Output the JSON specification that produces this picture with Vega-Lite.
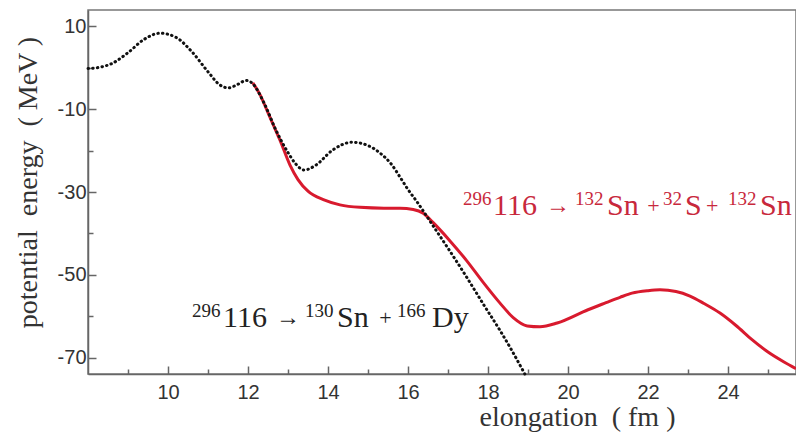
{
  "$schema": "https://vega.github.io/schema/vega-lite/v6.json",
  "autosize": {"type": "none"},
  "width": 708,
  "height": 364,
  "padding": {"left": 88, "top": 10, "right": 0, "bottom": 59},
  "background": "white",
  "config": {
    "view": {"stroke": "#777", "strokeWidth": 1.5},
    "axis": {
      "grid": false,
      "domainColor": "#666",
      "domainWidth": 1.5,
      "tickColor": "#666",
      "tickWidth": 1.5,
      "labelFont": "Liberation Sans",
      "labelFontSize": 20,
      "labelColor": "#333",
      "labelFlush": false,
      "labelExpr": "replace(datum.label, '−', '-')",
      "titleFont": "Liberation Serif",
      "titleFontSize": 28,
      "titleFontWeight": "normal",
      "titleColor": "#333"
    }
  },
  "datasets": {
    "fission": [
      {"x": 8.0, "y": -0.2}, {"x": 8.3, "y": 0.1}, {"x": 8.6, "y": 1.0}, {"x": 9.0, "y": 3.6},
      {"x": 9.4, "y": 6.8}, {"x": 9.8, "y": 8.3}, {"x": 10.2, "y": 7.3}, {"x": 10.6, "y": 3.8},
      {"x": 11.0, "y": -1.0}, {"x": 11.3, "y": -4.2}, {"x": 11.5, "y": -4.9}, {"x": 11.75, "y": -4.0},
      {"x": 11.95, "y": -3.1}, {"x": 12.1, "y": -3.7}, {"x": 12.4, "y": -8.5}, {"x": 12.7, "y": -15.1},
      {"x": 13.0, "y": -20.5}, {"x": 13.2, "y": -23.3}, {"x": 13.4, "y": -24.7}, {"x": 13.7, "y": -23.5},
      {"x": 14.1, "y": -20.0}, {"x": 14.6, "y": -18.0}, {"x": 15.0, "y": -18.8}, {"x": 15.3, "y": -20.6},
      {"x": 15.6, "y": -23.5}, {"x": 15.8, "y": -26.4}, {"x": 16.0, "y": -29.4}, {"x": 16.22, "y": -32.3},
      {"x": 16.63, "y": -38.2}, {"x": 17.05, "y": -44.3}, {"x": 17.47, "y": -50.6}, {"x": 17.88, "y": -57.0},
      {"x": 18.3, "y": -63.4}, {"x": 18.6, "y": -68.3}, {"x": 18.92, "y": -73.9}
    ],
    "ternary": [
      {"x": 12.12, "y": -3.7}, {"x": 12.3, "y": -6.5}, {"x": 12.47, "y": -10.2}, {"x": 12.65, "y": -14.2},
      {"x": 12.8, "y": -17.5}, {"x": 13.05, "y": -23.5}, {"x": 13.25, "y": -27.0}, {"x": 13.5, "y": -29.8},
      {"x": 13.9, "y": -31.9}, {"x": 14.3, "y": -33.1}, {"x": 14.8, "y": -33.7}, {"x": 15.4, "y": -33.9},
      {"x": 15.8, "y": -33.9}, {"x": 16.13, "y": -34.2}, {"x": 16.38, "y": -35.1}, {"x": 16.63, "y": -37.4},
      {"x": 17.05, "y": -41.8}, {"x": 17.47, "y": -46.6}, {"x": 17.88, "y": -51.8}, {"x": 18.3, "y": -56.8},
      {"x": 18.63, "y": -60.3}, {"x": 18.98, "y": -62.3}, {"x": 19.3, "y": -62.5}, {"x": 19.73, "y": -61.6},
      {"x": 20.5, "y": -58.4}, {"x": 20.95, "y": -56.7}, {"x": 21.3, "y": -55.4}, {"x": 21.6, "y": -54.4},
      {"x": 22.0, "y": -53.8}, {"x": 22.3, "y": -53.6}, {"x": 22.7, "y": -54.0}, {"x": 23.05, "y": -55.1},
      {"x": 23.4, "y": -56.9}, {"x": 23.8, "y": -59.2}, {"x": 24.2, "y": -62.2}, {"x": 24.6, "y": -65.6},
      {"x": 25.0, "y": -68.6}, {"x": 25.4, "y": -71.0}, {"x": 25.7, "y": -72.6}
    ],
    "labels": [
      {"series": "ternary", "kind": "sup", "text": "296", "x": 17.375, "y": -35.55},
      {"series": "ternary", "kind": "base", "text": "116", "x": 18.125, "y": -35.55},
      {"series": "ternary", "kind": "arrow", "text": "→", "x": 19.45, "y": -35.55},
      {"series": "ternary", "kind": "sup", "text": "132", "x": 20.175, "y": -35.55},
      {"series": "ternary", "kind": "base", "text": "Sn", "x": 20.975, "y": -35.55},
      {"series": "ternary", "kind": "sym", "text": "+", "x": 21.98, "y": -35.55},
      {"series": "ternary", "kind": "sup", "text": "32", "x": 22.375, "y": -35.55},
      {"series": "ternary", "kind": "base", "text": "S", "x": 22.925, "y": -35.55},
      {"series": "ternary", "kind": "sym", "text": "+", "x": 23.45, "y": -35.55},
      {"series": "ternary", "kind": "sup", "text": "132", "x": 24.0, "y": -35.55},
      {"series": "ternary", "kind": "base", "text": "Sn", "x": 24.8, "y": -35.55},
      {"series": "fission", "kind": "sup", "text": "296", "x": 10.6, "y": -62.56},
      {"series": "fission", "kind": "base", "text": "116", "x": 11.375, "y": -62.56},
      {"series": "fission", "kind": "arrow", "text": "→", "x": 12.7, "y": -62.56},
      {"series": "fission", "kind": "sup", "text": "130", "x": 13.425, "y": -62.56},
      {"series": "fission", "kind": "base", "text": "Sn", "x": 14.225, "y": -62.56},
      {"series": "fission", "kind": "sym", "text": "+", "x": 15.28, "y": -62.56},
      {"series": "fission", "kind": "sup", "text": "166", "x": 15.725, "y": -62.56},
      {"series": "fission", "kind": "base", "text": "Dy", "x": 16.6, "y": -62.56}
    ]
  },
  "resolve": {"axis": {"x": "independent", "y": "independent"}},
  "layer": [
    {
      "data": {"name": "ternary"},
      "mark": {"type": "line", "color": "#d81a2e", "strokeWidth": 3, "interpolate": "monotone"},
      "encoding": {
        "x": {
          "field": "x", "type": "quantitative",
          "scale": {"domain": [8, 25.7], "nice": false, "zero": false},
          "axis": {
            "orient": "bottom",
            "values": [10, 12, 14, 16, 18, 20, 22, 24],
            "tickSize": -8,
            "labelPadding": 16,
            "title": "elongation\u00a0 ( fm )",
            "titleX": 489,
            "titleY": 51,
            "titleAlign": "center",
            "titleBaseline": "alphabetic"
          }
        },
        "y": {
          "field": "y", "type": "quantitative",
          "scale": {"domain": [-73.9, 13.9], "nice": false, "zero": false},
          "axis": {
            "orient": "left",
            "values": [10, -10, -30, -50, -70],
            "tickSize": -8,
            "labelPadding": 10,
            "title": "potential\u00a0 energy\u00a0 ( MeV )",
            "titleX": -52,
            "titleY": 172,
            "titleAngle": -90,
            "titleAlign": "center",
            "titleBaseline": "alphabetic"
          }
        }
      }
    },
    {
      "data": {"name": "fission"},
      "mark": {"type": "line", "color": "#111", "strokeWidth": 3, "strokeCap": "round", "strokeDash": [0.5, 4.2], "interpolate": "monotone"},
      "encoding": {
        "x": {
          "field": "x", "type": "quantitative",
          "scale": {"domain": [8, 25.7], "nice": false, "zero": false},
          "axis": {
            "orient": "bottom",
            "values": [9, 11, 13, 15, 17, 19, 21, 23, 25],
            "tickSize": -5,
            "labels": false,
            "domain": false,
            "title": null
          }
        },
        "y": {
          "field": "y", "type": "quantitative",
          "scale": {"domain": [-73.9, 13.9], "nice": false, "zero": false},
          "axis": {
            "orient": "left",
            "values": [0, -20, -40, -60],
            "tickSize": -5,
            "labels": false,
            "domain": false,
            "title": null
          }
        }
      }
    },
    {
      "data": {"name": "labels"},
      "transform": [{"filter": "datum.kind === 'base'"}],
      "mark": {"type": "text", "font": "Liberation Serif", "fontSize": 30, "align": "left", "baseline": "alphabetic"},
      "encoding": {
        "x": {"field": "x", "type": "quantitative", "axis": null},
        "y": {"field": "y", "type": "quantitative", "axis": null},
        "text": {"field": "text"},
        "color": {
          "field": "series", "type": "nominal",
          "scale": {"domain": ["ternary", "fission"], "range": ["#c8283c", "#222"]},
          "legend": null
        }
      }
    },
    {
      "data": {"name": "labels"},
      "transform": [{"filter": "datum.kind === 'arrow'"}],
      "mark": {"type": "text", "font": "Liberation Serif", "fontSize": 24, "align": "left", "baseline": "alphabetic", "dy": -2},
      "encoding": {
        "x": {"field": "x", "type": "quantitative", "axis": null},
        "y": {"field": "y", "type": "quantitative", "axis": null},
        "text": {"field": "text"},
        "color": {
          "field": "series", "type": "nominal",
          "scale": {"domain": ["ternary", "fission"], "range": ["#c8283c", "#222"]},
          "legend": null
        }
      }
    },
    {
      "data": {"name": "labels"},
      "transform": [{"filter": "datum.kind === 'sym'"}],
      "mark": {"type": "text", "font": "Liberation Serif", "fontSize": 22, "align": "left", "baseline": "alphabetic", "dy": -2},
      "encoding": {
        "x": {"field": "x", "type": "quantitative", "axis": null},
        "y": {"field": "y", "type": "quantitative", "axis": null},
        "text": {"field": "text"},
        "color": {
          "field": "series", "type": "nominal",
          "scale": {"domain": ["ternary", "fission"], "range": ["#c8283c", "#222"]},
          "legend": null
        }
      }
    },
    {
      "data": {"name": "labels"},
      "transform": [{"filter": "datum.kind === 'sup'"}],
      "mark": {"type": "text", "font": "Liberation Serif", "fontSize": 19, "align": "left", "baseline": "alphabetic", "dy": -10},
      "encoding": {
        "x": {"field": "x", "type": "quantitative", "axis": null},
        "y": {"field": "y", "type": "quantitative", "axis": null},
        "text": {"field": "text"},
        "color": {
          "field": "series", "type": "nominal",
          "scale": {"domain": ["ternary", "fission"], "range": ["#c8283c", "#222"]},
          "legend": null
        }
      }
    }
  ]
}
